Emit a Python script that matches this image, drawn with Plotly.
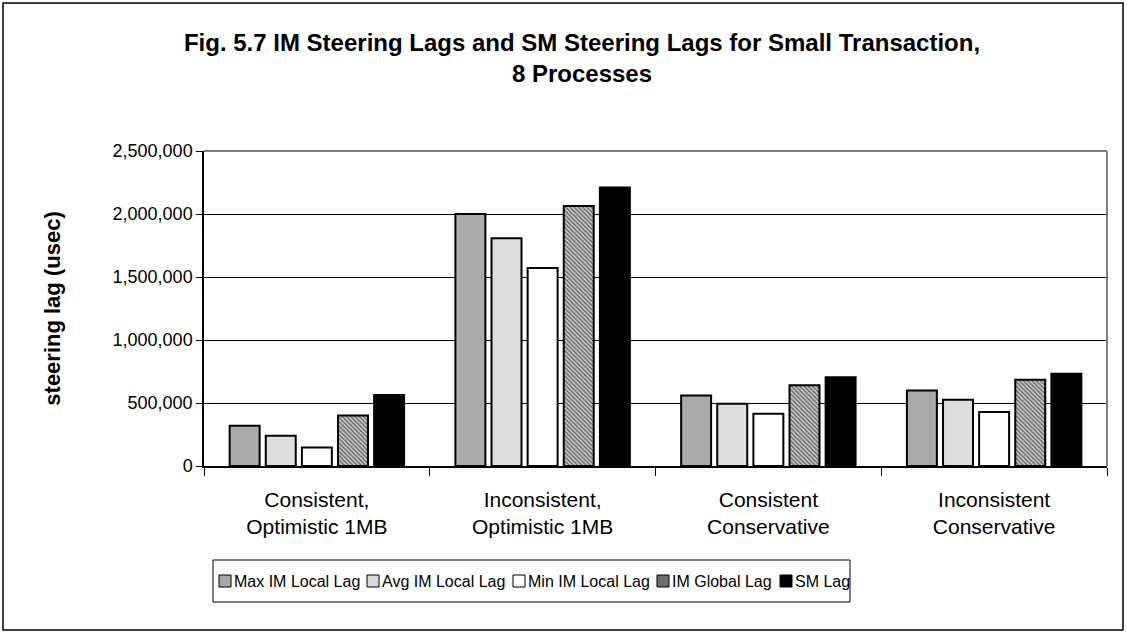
import plotly.graph_objects as go

# Transaction configurations (x categories)
categories = [
    "Consistent,<br>Optimistic 1MB",
    "Inconsistent,<br>Optimistic 1MB",
    "Consistent<br>Conservative",
    "Inconsistent<br>Conservative",
]

series_names = ["Max IM Local Lag", "Avg IM Local Lag", "Min IM Local Lag",
                "IM Global Lag", "SM Lag"]

# Steering lags in microseconds
max_im_local = [320000, 2000000, 560000, 600000]
avg_im_local = [240000, 1807000, 495000, 526000]
min_im_local = [146000, 1572000, 415000, 428000]
im_global = [400000, 2063000, 640000, 685000]
sm_lag = [563000, 2211000, 705000, 732000]

y_ticks = [0, 500000, 1000000, 1500000, 2000000, 2500000]

FONT = "Liberation Sans, Arial, sans-serif"

# Fill style per series (bars), plus a flat tone for the small legend keys
styles = [
    dict(color="#c4c4c4", pattern=dict(shape=".", fgcolor="#4a4a4a", size=2, solidity=0.5)),
    dict(color="#efefef", pattern=dict(shape=".", fgcolor="#9a9a9a", size=2, solidity=0.5)),
    dict(color="#ffffff"),
    dict(color="#d0d0d0", pattern=dict(shape="\\", fgcolor="#000000", size=3, solidity=0.5)),
    dict(color="#000000"),
]
key_fills = ["#a6a6a6", "#d9d9d9", "#ffffff", "#6e6e6e", "#000000"]

values = [max_im_local, avg_im_local, min_im_local, im_global, sm_lag]

fig = go.Figure()
for name, vals, mk in zip(series_names, values, styles):
    fig.add_trace(go.Bar(
        name=name, x=categories, y=vals, showlegend=False,
        marker=dict(line=dict(color="#000000", width=2), **mk),
    ))

W, H = 1127, 634
L, R, T, B = 204, 20, 151, 168
pw, ph = W - L - R, H - T - B


def px_x(p):
    return (p - L) / pw


def px_y(p):
    return (H - B - p) / ph


shapes = [
    # grey frame on top and right of the plot area
    dict(type="line", xref="paper", yref="paper", x0=0, x1=1, y0=1, y1=1,
         line=dict(color="#808080", width=2)),
    dict(type="line", xref="paper", yref="paper", x0=1, x1=1, y0=0, y1=1,
         line=dict(color="#808080", width=2)),
    # outer chart border
    dict(type="rect", xref="paper", yref="paper",
         x0=px_x(3), x1=px_x(1123), y0=px_y(630), y1=px_y(3),
         line=dict(color="#000000", width=1.5), fillcolor="rgba(0,0,0,0)",
         layer="below"),
    # legend box
    dict(type="rect", xref="paper", yref="paper",
         x0=px_x(213), x1=px_x(850), y0=px_y(602), y1=px_y(560),
         line=dict(color="#000000", width=1), fillcolor="#ffffff"),
]

annotations = []
# legend entries: key square followed by its label
key_left = [219, 367, 513, 657, 780]
for name, fill, kx in zip(series_names, key_fills, key_left):
    shapes.append(dict(type="rect", xref="paper", yref="paper",
                       x0=px_x(kx), x1=px_x(kx + 12),
                       y0=px_y(587), y1=px_y(575),
                       line=dict(color="#000000", width=1), fillcolor=fill))
    annotations.append(dict(text=name, xref="paper", yref="paper",
                            x=px_x(kx + 13), y=px_y(581),
                            xanchor="left", yanchor="middle", showarrow=False,
                            font=dict(family=FONT, size=16, color="#000000")))

fig.update_layout(
    width=W, height=H,
    margin=dict(l=L, r=R, t=T, b=B),
    paper_bgcolor="#ffffff", plot_bgcolor="#ffffff",
    font=dict(family=FONT, size=16, color="#000000"),
    barmode="group", bargap=0.2, bargroupgap=0.17,
    showlegend=False,
    title=dict(
        text="<b>Fig. 5.7 IM Steering Lags and SM Steering Lags for Small Transaction,<br>8 Processes</b>",
        x=582 / W, xanchor="center", xref="container",
        y=1 - 51 / H, yanchor="top", yref="container",
        font=dict(family=FONT, size=24, color="#000000"),
    ),
    xaxis=dict(
        type="category", tickson="boundaries", ticks="outside", ticklen=8,
        tickcolor="#000000", showline=True, linecolor="#000000", linewidth=1.5,
        showgrid=False, tickfont=dict(size=21), ticklabelstandoff=14,
    ),
    yaxis=dict(
        range=[0, 2500000], tickvals=y_ticks, tickformat=",",
        ticks="outside", ticklen=6, tickcolor="#000000",
        showline=True, linecolor="#000000", linewidth=1.5,
        showgrid=True, gridcolor="#000000", gridwidth=1,
        tickfont=dict(size=18), zeroline=False,
        title=dict(text="<b>steering lag (usec)</b>", standoff=46,
                   font=dict(size=22)),
    ),
    shapes=shapes,
    annotations=annotations,
)

fig.write_html("out.html")
